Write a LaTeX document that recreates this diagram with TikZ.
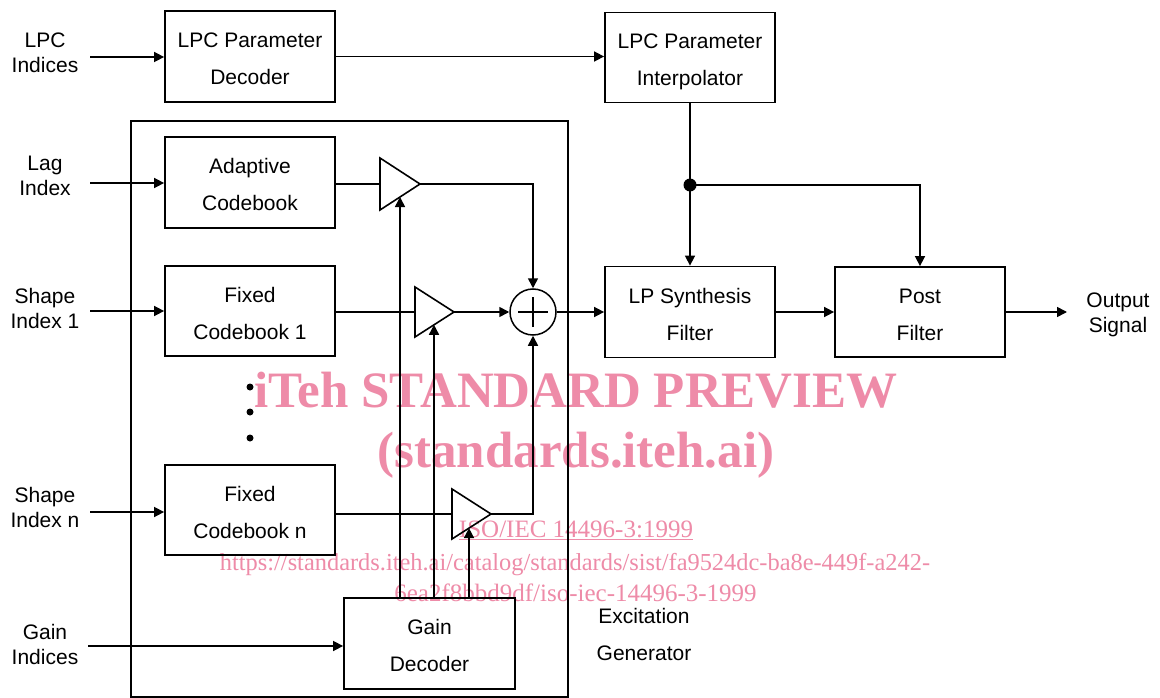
\documentclass[tikz,border=0pt]{standalone}
\usepackage{fontspec}
\setmainfont{Liberation Sans}
\newfontfamily\wmfont{Liberation Serif}
\usetikzlibrary{arrows.meta}
\definecolor{wmpink}{RGB}{238,139,168}
\begin{document}
\begin{tikzpicture}[x=1pt,y=-1pt,
  blk/.style={draw, line width=1.8pt, minimum width=170pt, minimum height=91pt,
    inner sep=0pt, align=center, text height=56pt, text depth=0pt,
    font=\fontsize{21}{37}\selectfont},
  lbl/.style={inner sep=0pt, align=center, text height=40pt, text depth=0pt,
    font=\fontsize{21}{25}\selectfont},
  lblwide/.style={inner sep=0pt, align=center, text height=52pt, text depth=0pt,
    font=\fontsize{21}{37}\selectfont},
  wire/.style={line width=1.6pt},
  arr/.style={wire, -{Triangle[length=10pt,width=10pt]}},
  ampl/.style={wire, line join=miter},
  wm/.style={text=wmpink, inner sep=0pt, font=\wmfont\fontsize{51}{51}\selectfont\bfseries},
  wmsmall/.style={text=wmpink, inner sep=0pt, font=\wmfont\fontsize{25}{25}\selectfont},
]
% page and background
\fill[white] (0,0) rectangle (1160,698);
\useasboundingbox (0,0) rectangle (1160,698);

% pink overprint text, kept beneath the drawing
\node[wm, anchor=base] (wmA) at (576,407) {iTeh STANDARD PREVIEW};
\node[wm, anchor=base] (wmB) at (576,467) {(standards.iteh.ai)};
\node[wmsmall, anchor=base] (wmC) at (576,537) {\underline{ISO/IEC 14496-3:1999}};
\node[wmsmall, anchor=base, font=\wmfont\fontsize{24.4}{25}\selectfont] (wmD) at (575,570) {https://standards.iteh.ai/catalog/standards/sist/fa9524dc-ba8e-449f-a242-};
\node[wmsmall, anchor=base] (wmE) at (575.5,601) {6ea2f8bbd9df/iso-iec-14496-3-1999};

% excitation generator frame
\node[draw, line width=1.6pt, minimum width=437pt, minimum height=576pt, inner sep=0pt] (excframe) at (349.5,409) {};
\node[lblwide] (excL) at (644,634.5) {Excitation\\Generator};

% processing blocks
\node[blk] (dec) at (250,56.5) {LPC Parameter\\Decoder};
\node[blk, minimum height=90pt] (interp) at (690,57.5) {LPC Parameter\\Interpolator};
\node[blk] (adapt) at (250,182.5) {Adaptive\\Codebook};
\node[blk, minimum height=90pt] (fc1) at (250,311) {Fixed\\Codebook 1};
\node[blk, minimum height=90pt] (fcn) at (250,510) {Fixed\\Codebook n};
\node[blk] (synth) at (690,312) {LP Synthesis\\Filter};
\node[blk, minimum height=90pt] (post) at (920,312) {Post\\Filter};
\node[blk, minimum width=171pt] (gain) at (429.5,643.5) {Gain\\Decoder};

% input and output labels
\node[lbl] (lpcL) at (45,53) {LPC\\Indices};
\node[lbl] (lagL) at (45,175.5) {Lag\\Index};
\node[lbl] (sh1L) at (45,308) {Shape\\Index 1};
\node[lbl] (shnL) at (45,507.5) {Shape\\Index n};
\node[lbl] (gainL) at (45,644) {Gain\\Indices};
\node[lbl] (outL) at (1118,312) {Output\\Signal};

% free ends of the input and output arrows
\coordinate (lpcin) at (90,57);
\coordinate (lagin) at (90,183);
\coordinate (sh1in) at (90,311);
\coordinate (shnin) at (90,512);
\coordinate (gainin) at (88,646);
\coordinate (outend) at (1067,312);

% gain amplifiers
\draw[ampl] (380,158) -- (420,184) -- (380,210) -- cycle;
\coordinate (a1in) at (380,184); \coordinate (a1out) at (420,184); \coordinate (a1g) at (400,197);
\draw[ampl] (415,287) -- (454,312) -- (415,337) -- cycle;
\coordinate (a2in) at (415,312); \coordinate (a2out) at (454,312); \coordinate (a2g) at (434,324.8);
\draw[ampl] (452,489) -- (491,514) -- (452,539) -- cycle;
\coordinate (a3in) at (452,514); \coordinate (a3out) at (491,514); \coordinate (a3g) at (469,528.1);

% summing junction
\node[draw, circle, line width=1.5pt, minimum size=46pt, inner sep=0pt] (sum) at (533,312) {};
\draw[wire] ([xshift=-15pt]sum.center) -- ([xshift=15pt]sum.center);
\draw[wire] ([yshift=-15pt]sum.center) -- ([yshift=15pt]sum.center);

% codebook ellipsis
\fill (250,387) circle[radius=3.5];
\fill (250,412) circle[radius=3.5];
\fill (250,438) circle[radius=3.5];

% inputs
\draw[arr] (lpcin) -- (lpcin -| dec.west);
\draw[arr] (lagin) -- (lagin -| adapt.west);
\draw[arr] (sh1in) -- (sh1in -| fc1.west);
\draw[arr] (shnin) -- (shnin -| fcn.west);
\draw[arr] (gainin) -- (gainin -| gain.west);

% LPC path
\draw[arr] (dec.east) -- (dec.east -| interp.west);
\draw[arr] (interp.south) -- (synth.north);
\coordinate (tap) at (690,185);
\fill (tap) circle[radius=6.5];
\draw[arr] (tap) -| (post.north);

% excitation path
\draw[wire] (adapt.east |- a1in) -- (a1in);
\draw[wire] (fc1.east |- a2in) -- (a2in);
\draw[wire] (fcn.east |- a3in) -- (a3in);
\draw[arr] (a1out) -| (sum.north);
\draw[arr] (a2out) -- (sum.west);
\draw[arr] (a3out) -| (sum.south);
\draw[arr] (gain.north -| a1g) -- (a1g);
\draw[arr] (gain.north -| a2g) -- (a2g);
\draw[arr] (gain.north -| a3g) -- (a3g);

% synthesis and output
\draw[arr] (sum.east) -- (sum.east -| synth.west);
\draw[arr] (synth.east) -- (synth.east -| post.west);
\draw[arr] (post.east) -- (outend);
\end{tikzpicture}
\end{document}
